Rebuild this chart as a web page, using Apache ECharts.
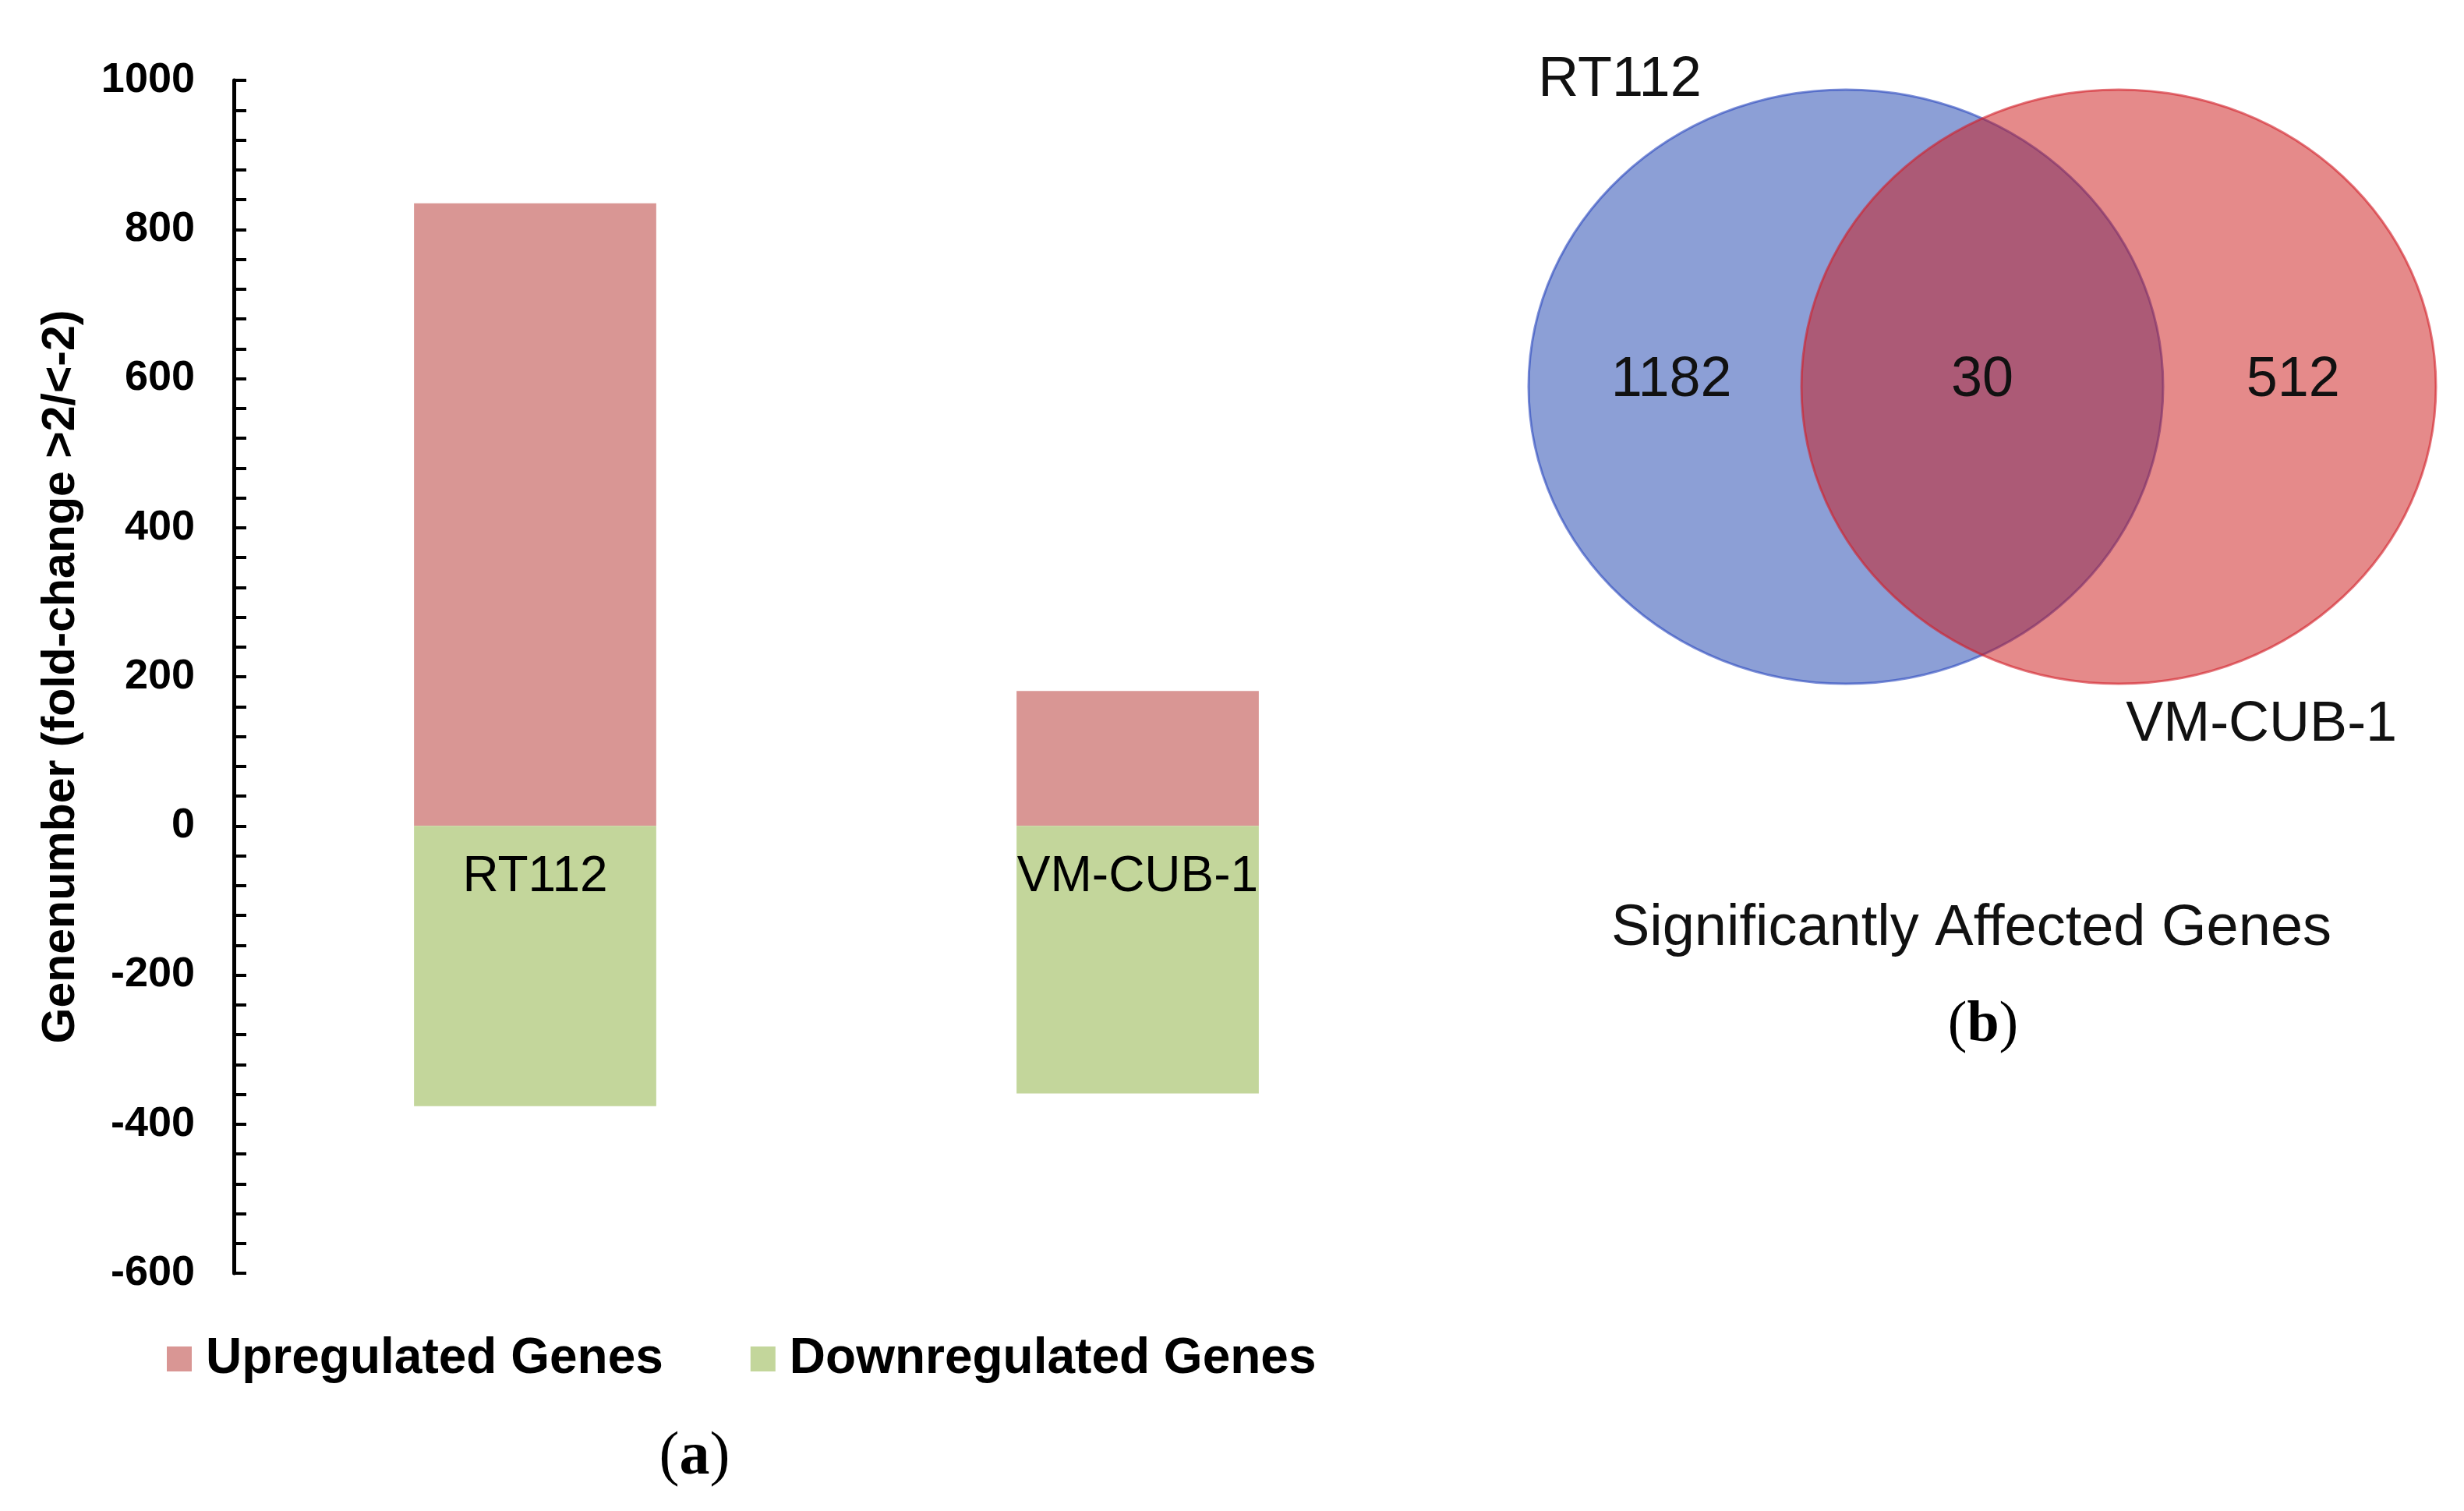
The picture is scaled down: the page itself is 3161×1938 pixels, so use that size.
<!DOCTYPE html>
<html>
<head>
<meta charset="utf-8">
<title>Genenumber / Venn</title>
<script src="https://cdn.jsdelivr.net/npm/echarts@6/dist/echarts.min.js"></script>
<style>
    html, body { margin: 0; padding: 0; background: #fff; }
    #main { width: 3161px; height: 1938px; }
</style>
</head>
<body>
<div id="main"></div>
<script>
// 柱状图数据
var cellLines = ['RT112', 'VM-CUB-1'];
var upGenes = [835, 181];
var downGenes = [-376, -359];
var seriesNames = ['Upregulated Genes', 'Downregulated Genes'];

// Venn 数据: RT112 only, both, VM-CUB-1 only
var vennSets = ['RT112', 'VM-CUB-1'];
var vennCounts = [1182, 30, 512];

var SANS = '"Liberation Sans", Arial, sans-serif';
var SERIF = '"Liberation Serif", "Times New Roman", serif';

// Venn 布局 (单位: 椭圆半径)
var vennShift = 0.43;
var vennLabelX = [-0.98, 0, 0.98];
var vennNamePos = [[-1.40, 1.03, 'left'], [0.88, -1.14, 'center']];
var vennFill = ['rgba(25,63,173,0.5)', 'rgba(203,21,21,0.5)'];
var vennStroke = ['rgba(40,70,190,0.6)', 'rgba(210,30,40,0.6)'];

var chart = echarts.init(document.getElementById('main'));

function renderEllipse(params, api) {
    var i = params.dataIndex;
    var c = api.coord([api.value(0), api.value(1)]);
    var s = api.size([1, 1]);
    var np = vennNamePos[i];
    var t = api.coord([np[0], np[1]]);
    return {
        type: 'group',
        children: [{
            type: 'ellipse',
            shape: { cx: c[0], cy: c[1], rx: s[0], ry: s[1] },
            style: { fill: vennFill[i], stroke: vennStroke[i], lineWidth: 3 }
        }, {
            type: 'text',
            x: t[0],
            y: t[1],
            style: {
                text: vennSets[i],
                align: np[2],
                verticalAlign: 'middle',
                fill: '#111',
                font: '72px ' + SANS
            }
        }]
    };
}

function renderCount(params, api) {
    var p = api.coord([api.value(0), api.value(1)]);
    return {
        type: 'text',
        x: p[0],
        y: p[1],
        z2: 10,
        style: {
            text: String(api.value(2)),
            align: 'center',
            verticalAlign: 'middle',
            fill: '#111',
            font: '72px ' + SANS
        }
    };
}

var option = {
    backgroundColor: '#fff',
    animation: false,
    textStyle: { fontFamily: SANS },
    legend: {
        left: 209,
        top: 1706,
        icon: 'rect',
        itemWidth: 32,
        itemHeight: 32,
        itemGap: 112,
        data: seriesNames,
        textStyle: {
            color: '#000',
            fontSize: 64,
            fontWeight: 'bold',
            lineHeight: 64,
            padding: [0, 0, 0, 13]
        }
    },
    grid: [{
        left: 300,
        top: 103,
        width: 1546,
        height: 1530
    }, {
        left: 1961,
        top: 115,
        width: 1164,
        height: 762,
        show: false
    }],
    xAxis: [{
        type: 'category',
        gridIndex: 0,
        data: cellLines,
        axisLine: { show: false },
        axisTick: { show: false },
        axisLabel: { show: false }
    }, {
        type: 'value',
        gridIndex: 1,
        min: -1.43,
        max: 1.43,
        show: false
    }],
    yAxis: [{
        type: 'value',
        gridIndex: 0,
        min: -600,
        max: 1000,
        interval: 200,
        name: 'Genenumber (fold-change >2/<-2)',
        nameLocation: 'middle',
        nameGap: 192,
        nameTextStyle: {
            color: '#000',
            fontSize: 59,
            fontWeight: 'bold'
        },
        axisLine: { show: true, lineStyle: { color: '#000', width: 5 } },
        axisTick: { show: true, inside: true, length: 16, lineStyle: { color: '#000', width: 4 } },
        minorTick: { show: true, splitNumber: 5, length: 16, lineStyle: { color: '#000', width: 4 } },
        splitLine: { show: false },
        axisLabel: {
            color: '#000',
            fontSize: 54,
            fontWeight: 'bold',
            margin: 50,
            formatter: function (v) { return String(v); }
        }
    }, {
        type: 'value',
        gridIndex: 1,
        min: -1,
        max: 1,
        show: false
    }],
    series: [{
        name: seriesNames[0],
        type: 'bar',
        stack: 'genes',
        xAxisIndex: 0,
        yAxisIndex: 0,
        barWidth: '40.2%',
        itemStyle: { color: '#d99694' },
        data: upGenes
    }, {
        name: seriesNames[1],
        type: 'bar',
        stack: 'genes',
        xAxisIndex: 0,
        yAxisIndex: 0,
        barWidth: '40.2%',
        itemStyle: { color: '#c3d69b' },
        // 类别名放在 0 线下方, 像 Excel 那样
        label: {
            show: true,
            position: 'insideTop',
            distance: 34,
            color: '#000',
            fontSize: 64,
            formatter: function (p) { return p.name; }
        },
        data: downGenes
    }, {
        name: 'venn',
        type: 'custom',
        xAxisIndex: 1,
        yAxisIndex: 1,
        renderItem: renderEllipse,
        data: vennSets.map(function (name, i) {
            return { name: name, value: [i === 0 ? -vennShift : vennShift, 0] };
        })
    }, {
        name: 'vennCounts',
        type: 'custom',
        xAxisIndex: 1,
        yAxisIndex: 1,
        z: 5,
        renderItem: renderCount,
        data: vennCounts.map(function (c, i) {
            return [vennLabelX[i], 0.02, c];
        })
    }],
    graphic: [{
        type: 'text',
        x: 2529,
        y: 1192,
        style: {
            text: 'Significantly Affected Genes',
            align: 'center',
            verticalAlign: 'middle',
            fill: '#111',
            font: '74px ' + SANS
        }
    }, {
        type: 'text',
        x: 891,
        y: 1870,
        style: {
            text: '({b|a})',
            align: 'center',
            verticalAlign: 'middle',
            fill: '#000',
            font: '78px ' + SERIF,
            rich: { b: { fontWeight: 'bold', fontSize: 78, fontFamily: SERIF } }
        }
    }, {
        type: 'text',
        x: 2544,
        y: 1316,
        style: {
            text: '({b|b})',
            align: 'center',
            verticalAlign: 'middle',
            fill: '#000',
            font: '74px ' + SERIF,
            rich: { b: { fontWeight: 'bold', fontSize: 74, fontFamily: SERIF } }
        }
    }]
};

chart.setOption(option);
</script>
</body>
</html>
